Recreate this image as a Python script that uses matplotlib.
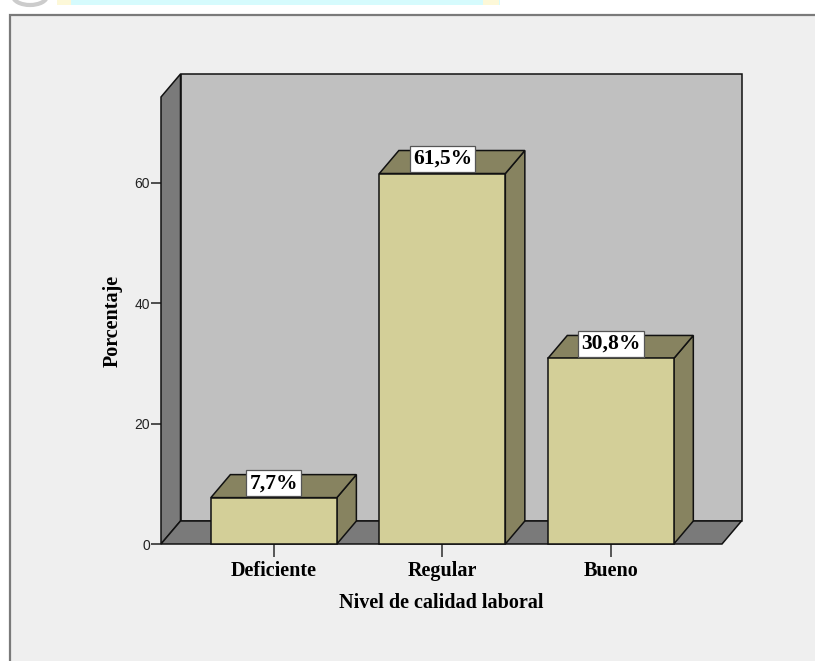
import matplotlib
matplotlib.use("Agg")
import matplotlib.pyplot as plt
from matplotlib.patches import Polygon, Rectangle, Arc

# Data
categories = ["Deficiente", "Regular", "Bueno"]
percentages = [7.7, 61.5, 30.8]
value_labels = ["7,7%", "61,5%", "30,8%"]
y_ticks = [0, 20, 40, 60]

W, H = 815, 661
DPI = 100
fig = plt.figure(figsize=(W / DPI, H / DPI), dpi=DPI, facecolor="white")

def px(x0, y0, w, h):
    """pixel box (top-left origin) -> figure fraction rect"""
    return [x0 / W, 1 - (y0 + h) / H, w / W, h / H]

# Faint strip along the top edge
fig.add_artist(Rectangle((60 / W, 1 - 5 / H), 440 / W, 5 / H, transform=fig.transFigure,
                         facecolor="#d6fbfd", edgecolor="none", zorder=-5))
fig.add_artist(Rectangle((57 / W, 1 - 5 / H), 14 / W, 5 / H, transform=fig.transFigure,
                         facecolor="#fdf8d8", edgecolor="none", zorder=-5))
fig.add_artist(Rectangle((483 / W, 1 - 5 / H), 16 / W, 5 / H, transform=fig.transFigure,
                         facecolor="#fdf8d8", edgecolor="none", zorder=-5))
fig.add_artist(Arc((30 / W, 1 + 4 / H), 34 / W, 18 / H, theta1=180, theta2=360,
                   transform=fig.transFigure, color="#cccccc", lw=3, zorder=-5))

# Chart frame (right and bottom edges run off the canvas)
fig.add_artist(Rectangle((10 / W, -0.05), (W + 20) / W, 1.05 - 15 / H,
                         transform=fig.transFigure, facecolor="#efefef",
                         edgecolor="#7a7a7a", lw=1.6, zorder=-4))

# Plot area: front axis line at x=161px, baseline at y=544px, top at y=97px
ax = fig.add_axes(px(161, 97, 561, 447))
ax.set_zorder(1)
ax.set_xlim(-0.67, 2.66)
Y_MAX = 74.2
ax.set_ylim(0, Y_MAX)
ax.patch.set_visible(False)
for s in ax.spines.values():
    s.set_visible(False)

# depth of the 3-D extrusion in data units
DX = 19.5 / (561 / (2.66 + 0.67))
DY = 23 / (447 / Y_MAX)
x0, x1 = -0.67, 2.66

EDGE = "#111111"
LW = 1.1
WALL = "#c0c0c0"
SIDE = "#7a7a7a"
BAR_FRONT = "#d3cf98"
BAR_DARK = "#878360"

def poly(pts, fc, z):
    ax.add_patch(Polygon(pts, closed=True, facecolor=fc, edgecolor=EDGE, lw=LW,
                         joinstyle="miter", clip_on=False, zorder=z))

# back wall, left wall, floor
poly([(x0 + DX, DY), (x1 + DX, DY), (x1 + DX, Y_MAX + DY), (x0 + DX, Y_MAX + DY)], WALL, 1)
poly([(x0, 0), (x0 + DX, DY), (x0 + DX, Y_MAX + DY), (x0, Y_MAX)], SIDE, 2)
poly([(x0, 0), (x1, 0), (x1 + DX, DY), (x0 + DX, DY)], SIDE, 2)

# bars
BW = 126 / (561 / (2.66 + 0.67))
for i, v in enumerate(percentages):
    l, r = i - BW / 2, i + BW / 2
    poly([(r, 0), (r + DX, DY), (r + DX, v + DY), (r, v)], BAR_DARK, 3)
    poly([(l, v), (r, v), (r + DX, v + DY), (l + DX, v + DY)], BAR_DARK, 3)
    poly([(l, 0), (r, 0), (r, v), (l, v)], BAR_FRONT, 4)
    ax.annotate(value_labels[i], xy=(i, v), xytext=(0, 4.5), textcoords="offset pixels",
                ha="center", va="bottom", fontsize=15.5, fontweight="bold",
                family="Liberation Serif", color="black", zorder=6,
                bbox=dict(boxstyle="square,pad=0.15", facecolor="white",
                          edgecolor="#555555", lw=0.9))

# axes ticks and labels
ax.set_yticks(y_ticks)
ax.set_yticklabels([str(t) for t in y_ticks], family="Liberation Sans", fontsize=10,
                   color="#222222")
ax.tick_params(axis="y", length=7, width=1.1, color="#222222", pad=1)
ax.set_xticks(range(len(categories)))
ax.set_xticklabels(categories, family="Liberation Serif", fontweight="bold", fontsize=14.5)
ax.tick_params(axis="x", length=9, width=1.4, color="#555555", pad=3)

ax.set_xlabel("Nivel de calidad laboral", family="Liberation Serif", fontweight="bold",
              fontsize=14.5)
ax.xaxis.set_label_coords(0.5, -0.11)
ax.set_ylabel("Porcentaje", family="Liberation Serif", fontweight="bold", fontsize=14.5)
ax.yaxis.set_label_coords(-0.068, 0.5)

fig.savefig("out.png", dpi=DPI, facecolor=fig.get_facecolor())
